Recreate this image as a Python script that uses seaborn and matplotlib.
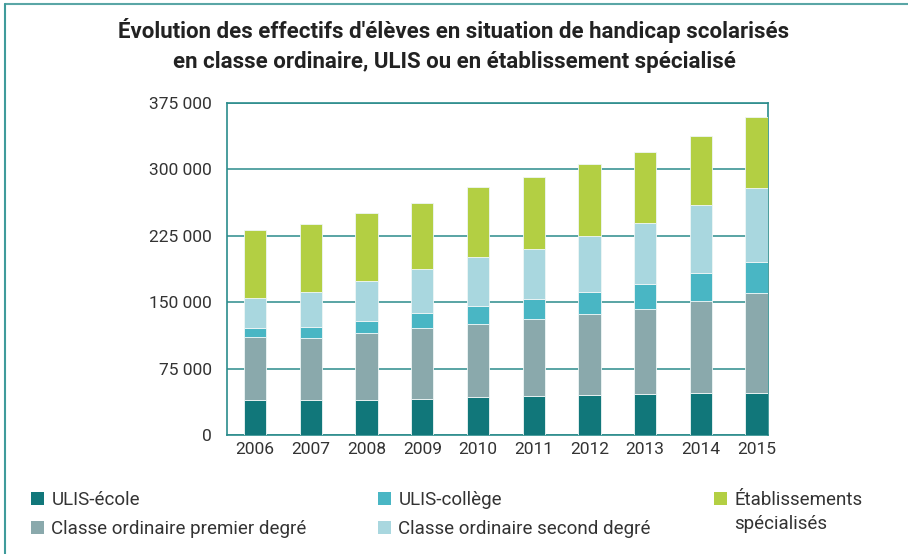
import numpy as np
import pandas as pd
import matplotlib
matplotlib.use("Agg")
import matplotlib.pyplot as plt
from matplotlib.lines import Line2D
from matplotlib.patches import Patch
from matplotlib.ticker import FixedLocator
import seaborn as sns

# data
years = ["2006", "2007", "2008", "2009", "2010", "2011", "2012", "2013", "2014", "2015"]
ulis_ecole = [39600, 39600, 39600, 41100, 42600, 43700, 44900, 46400, 47500, 47500]
premier_degre = [70800, 69700, 75400, 79100, 82500, 87100, 91500, 95300, 104000, 112700]
ulis_college = [9800, 12100, 13200, 17000, 20000, 22600, 25300, 28300, 31700, 34700]
second_degre = [34700, 40300, 45900, 50500, 56200, 56900, 63300, 69700, 76900, 83600]
etablissements = [76500, 76500, 76200, 74600, 78400, 80300, 80300, 79200, 77200, 80300]

y_ticks = [0, 75000, 150000, 225000, 300000, 375000]
title = ("Évolution des effectifs d'élèves en situation de handicap scolarisés\n"
         "en classe ordinaire, ULIS ou en établissement spécialisé")

teal = "#2b8c8c"
series = [
    ("ULIS-école", ulis_ecole, "#11777a"),
    ("Classe ordinaire premier degré", premier_degre, "#8aa9ac"),
    ("ULIS-collège", ulis_college, "#49b6c4"),
    ("Classe ordinaire second degré", second_degre, "#a9d7df"),
    ("Établissements", etablissements, "#b3cf43"),
]

sns.set_style("white")
plt.rcParams["font.family"] = ["Roboto", "DejaVu Sans"]

fig = plt.figure(figsize=(9.08, 5.54), dpi=100)
ax = fig.add_axes([0.2503, 0.2148, 0.5958, 0.5998])

bottom = np.zeros(len(years))
for name, vals, col in series:
    df = pd.DataFrame({"year": years, "value": vals})
    sns.barplot(data=df, x="year", y="value", color=col, bottom=bottom,
                width=0.4, errorbar=None, ax=ax, edgecolor="#eef6f6",
                linewidth=0.6, saturation=1, zorder=3)
    bottom = bottom + np.array(vals)

ax.set_xlim(-0.5, 9.21)
ax.set_ylim(0, 375000)
ax.set_yticks(y_ticks)
ax.set_yticklabels([f"{v:,}".replace(",", " ") for v in y_ticks])
ax.set_xlabel("")
ax.set_ylabel("")
ax.yaxis.grid(True, color=teal, linewidth=1.1, zorder=0)
ax.set_axisbelow(True)
for s in ax.spines.values():
    s.set_visible(True)
    s.set_color(teal)
    s.set_linewidth(1.2)

ax.tick_params(axis="y", length=0, pad=11, labelsize=12.5, labelcolor="#333333")
ax.tick_params(axis="x", which="major", length=0, pad=5, labelsize=12.5, labelcolor="#333333")
ax.xaxis.set_minor_locator(FixedLocator(np.arange(0.5, 9.0, 1.0)))
ax.tick_params(axis="x", which="minor", length=4, width=1, color=teal, direction="out")

fig.text(0.5, 0.918, title, ha="center", va="center", fontsize=16,
         fontweight="bold", color="#222222", linespacing=1.45)

# legend in three columns
cols = [
    (0.034, [0, 1]),
    (0.416, [2, 3]),
    (0.786, [4]),
]
for x0, idx in cols:
    handles = [Patch(facecolor=series[i][2], edgecolor="none") for i in idx]
    labels = [series[i][0] for i in idx]
    fig.legend(handles, labels, loc="upper left", bbox_to_anchor=(x0, 0.114),
               frameon=False, fontsize=13.5, handlelength=0.7, handleheight=0.7,
               handletextpad=0.4, labelspacing=0.6, borderpad=0,
               borderaxespad=0, labelcolor="#333333")
fig.text(0.8085, 0.0545, "spécialisés", ha="left", va="center", fontsize=13.5,
         color="#333333")

# figure frame lines (top and left)
fig.add_artist(Line2D([0.006, 1], [0.9928, 0.9928], color="#5aa6a6", linewidth=1.5,
                      transform=fig.transFigure))
fig.add_artist(Line2D([0.006, 0.006], [0, 0.9928], color="#3f9b9b", linewidth=1.5,
                      transform=fig.transFigure))

fig.savefig("out.png", dpi=100)
